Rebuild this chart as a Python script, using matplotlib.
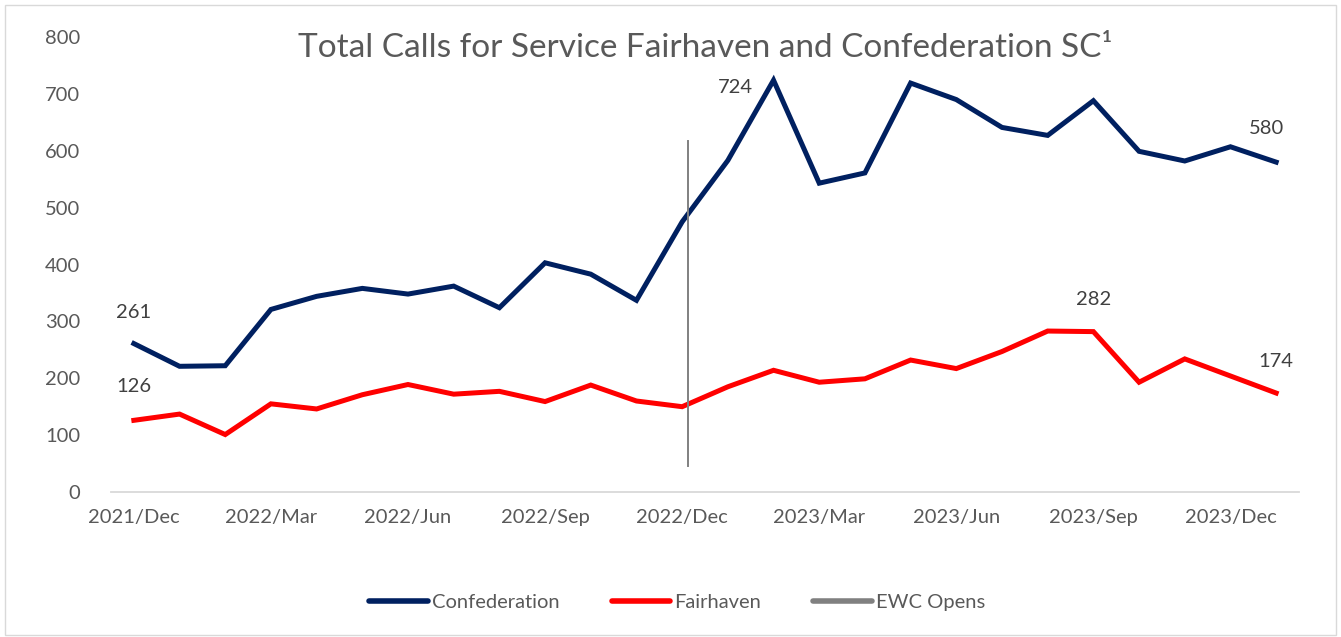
import numpy as np
import matplotlib.pyplot as plt
from matplotlib.patches import Rectangle
from matplotlib.lines import Line2D

plt.rcParams['font.family'] = ['Lato', 'DejaVu Sans']

# months Dec 2021 .. Jan 2024
months = ['2021/Dec', '2022/Jan', '2022/Feb', '2022/Mar', '2022/Apr', '2022/May',
          '2022/Jun', '2022/Jul', '2022/Aug', '2022/Sep', '2022/Oct', '2022/Nov',
          '2022/Dec', '2023/Jan', '2023/Feb', '2023/Mar', '2023/Apr', '2023/May',
          '2023/Jun', '2023/Jul', '2023/Aug', '2023/Sep', '2023/Oct', '2023/Nov',
          '2023/Dec', '2024/Jan']

confederation = [261, 221, 222, 321, 344, 358, 348, 362, 324, 403, 383, 337,
                 475, 583, 724, 543, 561, 719, 690, 641, 627, 688, 599, 582,
                 607, 580]
fairhaven = [126, 137, 101, 155, 146, 171, 189, 172, 177, 159, 188, 160,
             150, 185, 214, 193, 199, 232, 217, 247, 283, 282, 193, 234,
             204, 174]

ewc_open = 12.12          # position of "EWC Opens" marker (just after 2022/Dec)
ewc_range = [46, 617]

x = np.arange(len(months))

navy = '#002060'
red = '#FF0000'
grey = '#808080'

fig = plt.figure(figsize=(13.41, 6.37), dpi=100)
ax = fig.add_axes([111/1341, 1 - 492/637, (1299-111)/1341, (492-37)/637])

ax.plot(x, confederation, color=navy, lw=3.6, solid_joinstyle='miter')
ax.plot(x, fairhaven, color=red, lw=3.6, solid_joinstyle='miter')
ax.plot([ewc_open, ewc_open], ewc_range, color=grey, lw=1.4)

ax.set_xlim(-0.5, len(months) - 0.5)
ax.set_ylim(0, 800)
ax.set_yticks(range(0, 801, 100))
ax.set_xticks(x[::3])
ax.set_xticklabels(months[::3])

for s in ['top', 'right', 'left']:
    ax.spines[s].set_visible(False)
ax.spines['bottom'].set_color('#D9D9D9')
ax.spines['bottom'].set_linewidth(1.3)
ax.tick_params(axis='both', length=0, labelsize=14.5, colors='#595959')
ax.tick_params(axis='y', pad=22)
ax.tick_params(axis='x', pad=12)

lab = dict(fontsize=14.5, color='#404040')
ax.text(0, confederation[0] + 40, str(confederation[0]), ha='center', va='bottom', **lab)
ax.text(0, fairhaven[0] + 44, str(fairhaven[0]), ha='center', va='bottom', **lab)
ax.text(13.55, 712, str(confederation[14]), ha='right', va='center', **lab)
ax.text(24.8, confederation[25] + 44, str(confederation[25]), ha='center', va='bottom', **lab)
ax.text(21, fairhaven[21] + 42, str(fairhaven[21]), ha='center', va='bottom', **lab)
ax.text(25, fairhaven[25] + 40, str(fairhaven[25]), ha='center', va='bottom', **lab)

fig.text(705/1341, 1 - 48/637, 'Total Calls for Service Fairhaven and Confederation SC\u00b9',
         ha='center', va='center', fontsize=24, color='#595959')

handles = [Line2D([], [], color=navy, lw=4, solid_capstyle='round'),
           Line2D([], [], color=red, lw=4, solid_capstyle='round'),
           Line2D([], [], color=grey, lw=4, solid_capstyle='round')]
fig.legend(handles, ['Confederation', 'Fairhaven', 'EWC Opens'],
           loc='center', bbox_to_anchor=(677/1341, 1 - 602/637), ncol=3, frameon=False,
           fontsize=14.5, handlelength=2.9, handletextpad=0.2, columnspacing=2.6,
           labelcolor='#595959')

fig.patches.append(Rectangle((5/1341, 2/637), 1331/1341, 630/637, transform=fig.transFigure,
                             fill=False, edgecolor='#D9D9D9', lw=1))

fig.savefig('out.png', dpi=100)
